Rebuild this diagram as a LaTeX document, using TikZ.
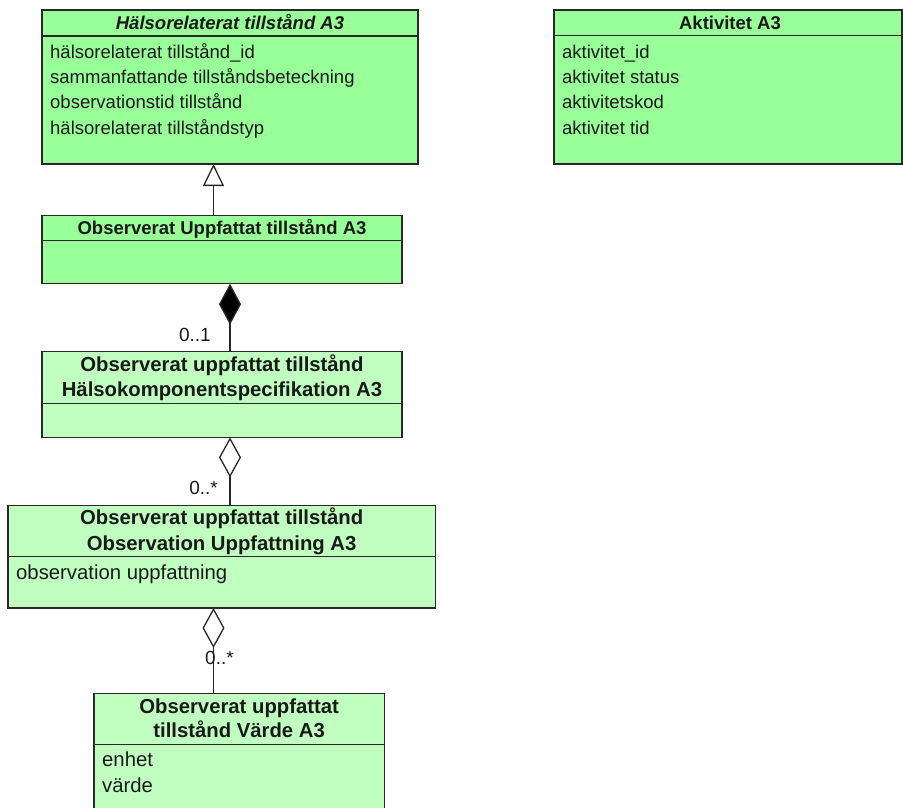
\documentclass[tikz,border=0pt]{standalone}
\usepackage{fontspec}
\setmainfont{Liberation Sans}
\usetikzlibrary{arrows.meta}
\definecolor{umlgreen}{RGB}{153,255,153}
\definecolor{umlpale}{RGB}{192,255,192}
\definecolor{umlline}{RGB}{40,40,40}
\definecolor{umltext}{RGB}{25,25,25}

\begin{document}
\begin{tikzpicture}[x=1pt,y=-1pt,
  cls/.style={draw=umlline, line width=1.3pt, inner sep=0pt, outer sep=0pt, anchor=north west},
  sep/.style={draw=umlline, line width=1.3pt},
  ttlS/.style={inner sep=0pt, anchor=base, text=umltext, font=\fontsize{18.5}{25}\selectfont\bfseries},
  ttlL/.style={inner sep=0pt, anchor=base, text=umltext, font=\fontsize{20.3}{25}\selectfont\bfseries},
  attS/.style={inner sep=0pt, anchor=base west, text=umltext, font=\fontsize{18.5}{25}\selectfont},
  attL/.style={inner sep=0pt, anchor=base west, text=umltext, font=\fontsize{20.3}{25}\selectfont},
  mult/.style={inner sep=0pt, text=umltext, font=\fontsize{19}{19}\selectfont},
  link/.style={draw=umlline, line width=1.3pt},
  gen/.style={-{Triangle[length=22pt, width=21pt, fill=white]}},
  comp/.style={-{Diamond[length=41pt, width=22pt, fill=black]}},
  aggr/.style={-{Diamond[length=40pt, width=22pt, fill=white]}},
]
\useasboundingbox (0,0) rectangle (903,808);
\clip (0,0) rectangle (903,808);

% --- classes ---
\node[cls, fill=umlgreen, minimum width=376pt, minimum height=154pt] (b1) at (42,10) {};
\draw[sep] ([yshift=-26pt]b1.north west) -- ([yshift=-26pt]b1.north east);
\node[ttlS] (b1t) at ([yshift=-20pt]b1.north) {\itshape Hälsorelaterat tillstånd A3};
\node[attS] (b1a) at ([xshift=8pt,yshift=-49pt]b1.north west) {hälsorelaterat tillstånd\_id};
\node[attS] (b1b) at ([xshift=8pt,yshift=-74pt]b1.north west) {sammanfattande tillståndsbeteckning};
\node[attS] (b1c) at ([xshift=8pt,yshift=-99pt]b1.north west) {observationstid tillstånd};
\node[attS] (b1d) at ([xshift=8pt,yshift=-124pt]b1.north west) {hälsorelaterat tillståndstyp};

\node[cls, fill=umlgreen, minimum width=348pt, minimum height=154pt] (b6) at (554,10) {};
\draw[sep] ([yshift=-25.5pt]b6.north west) -- ([yshift=-25.5pt]b6.north east);
\node[ttlS] (b6t) at ([xshift=2pt,yshift=-19.5pt]b6.north) {Aktivitet A3};
\node[attS] (b6a) at ([xshift=8pt,yshift=-49pt]b6.north west) {aktivitet\_id};
\node[attS] (b6b) at ([xshift=8pt,yshift=-74pt]b6.north west) {aktivitet status};
\node[attS] (b6c) at ([xshift=8pt,yshift=-99pt]b6.north west) {aktivitetskod};
\node[attS] (b6d) at ([xshift=8pt,yshift=-124pt]b6.north west) {aktivitet tid};

\node[cls, fill=umlgreen, minimum width=360pt, minimum height=68.4pt] (b2) at (42,215.3) {};
\draw[sep] ([yshift=-25.4pt]b2.north west) -- ([yshift=-25.4pt]b2.north east);
\node[ttlS] (b2t) at ([yshift=-19pt]b2.north) {Observerat Uppfattat tillstånd A3};

\node[cls, fill=umlpale, minimum width=360pt, minimum height=85.7pt] (b3) at (42,351.7) {};
\draw[sep] ([yshift=-51.6pt]b3.north west) -- ([yshift=-51.6pt]b3.north east);
\node[ttlL] (b3t) at ([yshift=-20pt]b3.north) {Observerat uppfattat tillstånd};
\node[ttlL] (b3u) at ([yshift=-45pt]b3.north) {Hälsokomponentspecifikation A3};

\node[cls, fill=umlpale, minimum width=427.3pt, minimum height=102.7pt] (b4) at (8,505.3) {};
\draw[sep] ([yshift=-51.4pt]b4.north west) -- ([yshift=-51.4pt]b4.north east);
\node[ttlL] (b4t) at ([yshift=-19pt]b4.north) {Observerat uppfattat tillstånd};
\node[ttlL] (b4u) at ([yshift=-44.7pt]b4.north) {Observation Uppfattning A3};
\node[attL] (b4a) at ([xshift=8pt,yshift=-73.7pt]b4.north west) {observation uppfattning};

\node[cls, fill=umlpale, minimum width=290.3pt, minimum height=140pt] (b5) at (94,693.3) {};
\draw[sep] ([yshift=-51pt]b5.north west) -- ([yshift=-51pt]b5.north east);
\node[ttlL] (b5t) at ([yshift=-19.7pt]b5.north) {Observerat uppfattat};
\node[ttlL] (b5u) at ([yshift=-44.4pt]b5.north) {tillstånd Värde A3};
\node[attL] (b5a) at ([xshift=8pt,yshift=-73.4pt]b5.north west) {enhet};
\node[attL] (b5b) at ([xshift=8pt,yshift=-99pt]b5.north west) {värde};

% --- relations ---
\coordinate (xa) at (213.5,0);
\coordinate (xb) at (230,0);
\draw[link,gen]  (b2.north -| xa) -- (b1.south -| xa);
\draw[link,comp] (b3.north -| xb) -- (b2.south -| xb);
\draw[link,aggr] (b4.north -| xb) -- (b3.south -| xb);
\draw[link,aggr] (b5.north -| xa) -- (b4.south -| xa);

% --- multiplicities ---
\node[mult, anchor=base east] (m1) at (211,341.5) {0..1};
\node[mult, anchor=base east] (m2) at (218,494) {0..*};
\node[mult, anchor=base west] (m3) at (205,664.3) {0..*};
\end{tikzpicture}
\end{document}
